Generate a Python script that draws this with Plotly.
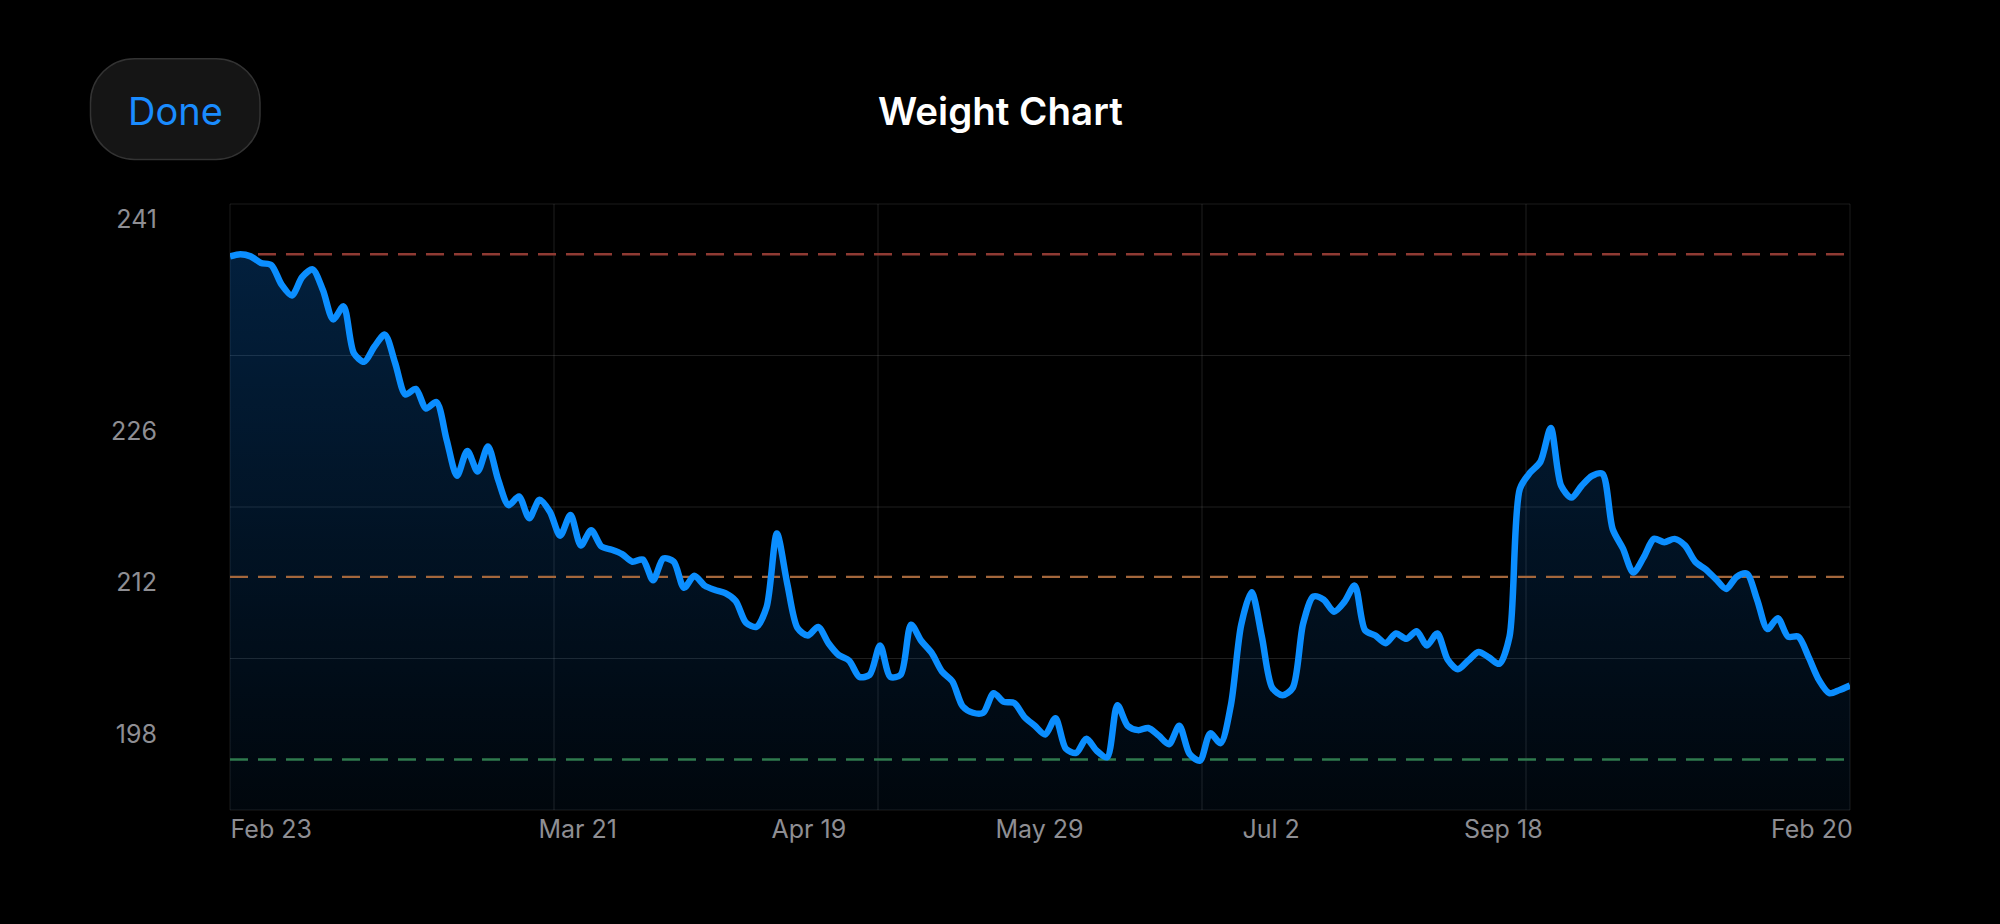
import plotly.graph_objects as go

# ---------------- data ----------------
weights = [241.5, 241.7, 241.5, 240.9, 240.7, 238.9, 237.9, 239.6, 240.3, 238.4,
           235.7, 236.9, 232.6, 231.8, 233.2, 234.3, 231.7, 228.8, 229.3, 227.5,
           228.1, 224.6, 221.3, 223.6, 221.7, 224.0, 220.9, 218.6, 219.4, 217.4,
           219.1, 218.0, 215.8, 217.7, 214.9, 216.3, 214.8, 214.5, 214.1, 213.4,
           213.6, 211.7, 213.7, 213.4, 211.0, 212.1, 211.2, 210.8, 210.5, 209.8,
           207.8, 207.4, 209.2, 216.0, 211.4, 207.3, 206.6, 207.4, 205.9, 204.8,
           204.3, 202.8, 203.0, 205.7, 202.8, 203.0, 207.6, 206.1, 205.0, 203.3,
           202.4, 200.1, 199.5, 199.5, 201.3, 200.5, 200.4, 199.1, 198.3, 197.5,
           199.0, 196.2, 195.8, 197.1, 196.0, 195.4, 200.2, 198.3, 197.9, 198.1,
           197.4, 196.6, 198.3, 195.7, 195.1, 197.6, 196.7, 200.2, 207.6, 210.6,
           206.5, 201.8, 201.1, 201.8, 207.7, 210.2, 209.9, 208.8, 209.7, 211.2,
           207.1, 206.6, 205.9, 206.8, 206.3, 207.0, 205.7, 206.8, 204.4, 203.5,
           204.3, 205.1, 204.6, 204.0, 206.5, 220.1, 221.6, 222.6, 225.7, 220.4,
           219.3, 220.4, 221.3, 221.5, 216.4, 214.6, 212.4, 213.8, 215.5, 215.2,
           215.5, 214.9, 213.4, 212.7, 211.8, 210.9, 212.0, 212.3, 209.9, 207.2,
           208.2, 206.5, 206.5, 204.6, 202.5, 201.3, 201.6, 202.0]
entries = list(range(len(weights)))

start_weight = 241.7   # red dashed
mid_weight = 212.0     # orange dashed
goal_weight = 195.2    # green dashed

x_tick_labels = ["Feb 23", "Mar 21", "Apr 19", "May 29", "Jul 2", "Sep 18", "Feb 20"]
y_tick_labels = ["241", "226", "212", "198"]

# ---------------- layout helpers ----------------
W, H = 2000, 924
L, R, T, B = 230, 150, 204, 114
PW, PH = W - L - R, H - T - B

x_tick_pos = [4.0, 33.7, 56.1, 78.45, 100.9, 123.4, 153.3]
y_tick_pos = [244.9, 225.4, 211.5, 197.5]
Y_RANGE = [190.55, 246.32]
X_RANGE = [0, len(weights) - 1]


def px(xp):
    return (xp - L) / PW


def py(yp):
    return (H - B - yp) / PH


LINE_BLUE = "#0B8EFF"
TICK_GREY = "#8e8e93"
GRID = "rgba(255,255,255,0.12)"

fig = go.Figure()

# area fill
fig.add_trace(go.Scatter(
    x=entries, y=weights, mode="lines",
    line=dict(width=0, shape="spline", smoothing=0.8),
    fill="tozeroy",
    fillgradient=dict(type="vertical", start=Y_RANGE[0], stop=start_weight,
                      colorscale=[[0, "rgba(10,132,255,0.05)"],
                                  [1, "rgba(10,132,255,0.24)"]]),
    hoverinfo="skip"))

# reference dashed lines
for val, col in [(start_weight, "#8f3a33"), (mid_weight, "#a4673c"), (goal_weight, "#2f7a4e")]:
    fig.add_trace(go.Scatter(
        x=[X_RANGE[0], X_RANGE[1]], y=[val, val], mode="lines",
        line=dict(color=col, width=2.4, dash="18px,10px"), hoverinfo="skip"))

# weight line
fig.add_trace(go.Scatter(
    x=entries, y=weights, mode="lines",
    line=dict(color=LINE_BLUE, width=6.5, shape="spline", smoothing=0.8)))

shapes = []
# grid lines
for f in [0.2, 0.4, 0.6, 0.8]:
    shapes.append(dict(type="line", xref="x domain", yref="y domain", x0=f, x1=f, y0=0, y1=1,
                       line=dict(color=GRID, width=1), layer="below"))
for f in [0.25, 0.5, 0.75]:
    shapes.append(dict(type="line", xref="x domain", yref="y domain", x0=0, x1=1, y0=f, y1=f,
                       line=dict(color=GRID, width=1), layer="below"))
shapes.append(dict(type="rect", xref="x domain", yref="y domain", x0=0, x1=1, y0=0, y1=1,
                   line=dict(color="rgba(255,255,255,0.10)", width=1), layer="below"))

# Done button (rounded)
bx0, bx1, by0, by1, r = 90.5, 260.0, 58.7, 159.4, 44.0
k = 0.5523 * r
pts = [
    f"M {px(bx0 + r)},{py(by0)}",
    f"L {px(bx1 - r)},{py(by0)}",
    f"C {px(bx1 - r + k)},{py(by0)} {px(bx1)},{py(by0 + r - k)} {px(bx1)},{py(by0 + r)}",
    f"L {px(bx1)},{py(by1 - r)}",
    f"C {px(bx1)},{py(by1 - r + k)} {px(bx1 - r + k)},{py(by1)} {px(bx1 - r)},{py(by1)}",
    f"L {px(bx0 + r)},{py(by1)}",
    f"C {px(bx0 + r - k)},{py(by1)} {px(bx0)},{py(by1 - r + k)} {px(bx0)},{py(by1 - r)}",
    f"L {px(bx0)},{py(by0 + r)}",
    f"C {px(bx0)},{py(by0 + r - k)} {px(bx0 + r - k)},{py(by0)} {px(bx0 + r)},{py(by0)}",
    "Z",
]
shapes.append(dict(type="path", xref="paper", yref="paper", path=" ".join(pts),
                   fillcolor="#151515", line=dict(color="#333333", width=1.5), layer="above"))

annotations = [
    dict(text="Done", xref="paper", yref="paper", x=px(175), y=py(111),
         xanchor="center", yanchor="middle", showarrow=False,
         font=dict(family="Inter", size=38, color="#1a8cff")),
    dict(text="Weight Chart", xref="paper", yref="paper", x=px(1000), y=py(111),
         xanchor="center", yanchor="middle", showarrow=False,
         font=dict(family="Inter", size=38.5, color="white", weight=600)),
]

fig.update_layout(
    width=W, height=H,
    margin=dict(l=L, r=R, t=T, b=B),
    paper_bgcolor="black", plot_bgcolor="black",
    showlegend=False,
    shapes=shapes, annotations=annotations,
    font=dict(family="Inter"),
    xaxis=dict(range=X_RANGE, tickmode="array", tickvals=x_tick_pos, ticktext=x_tick_labels,
               showgrid=False, zeroline=False, showline=False, ticks="",
               tickfont=dict(family="Inter", size=25, color=TICK_GREY),
               ticklabelstandoff=2, automargin=False, fixedrange=True),
    yaxis=dict(range=Y_RANGE, tickmode="array", tickvals=y_tick_pos, ticktext=y_tick_labels,
               showgrid=False, zeroline=False, showline=False, ticks="",
               tickfont=dict(family="Inter", size=25, color=TICK_GREY),
               ticklabelstandoff=72, automargin=False, fixedrange=True),
)

fig.write_html("out.html", config={"displayModeBar": False})
